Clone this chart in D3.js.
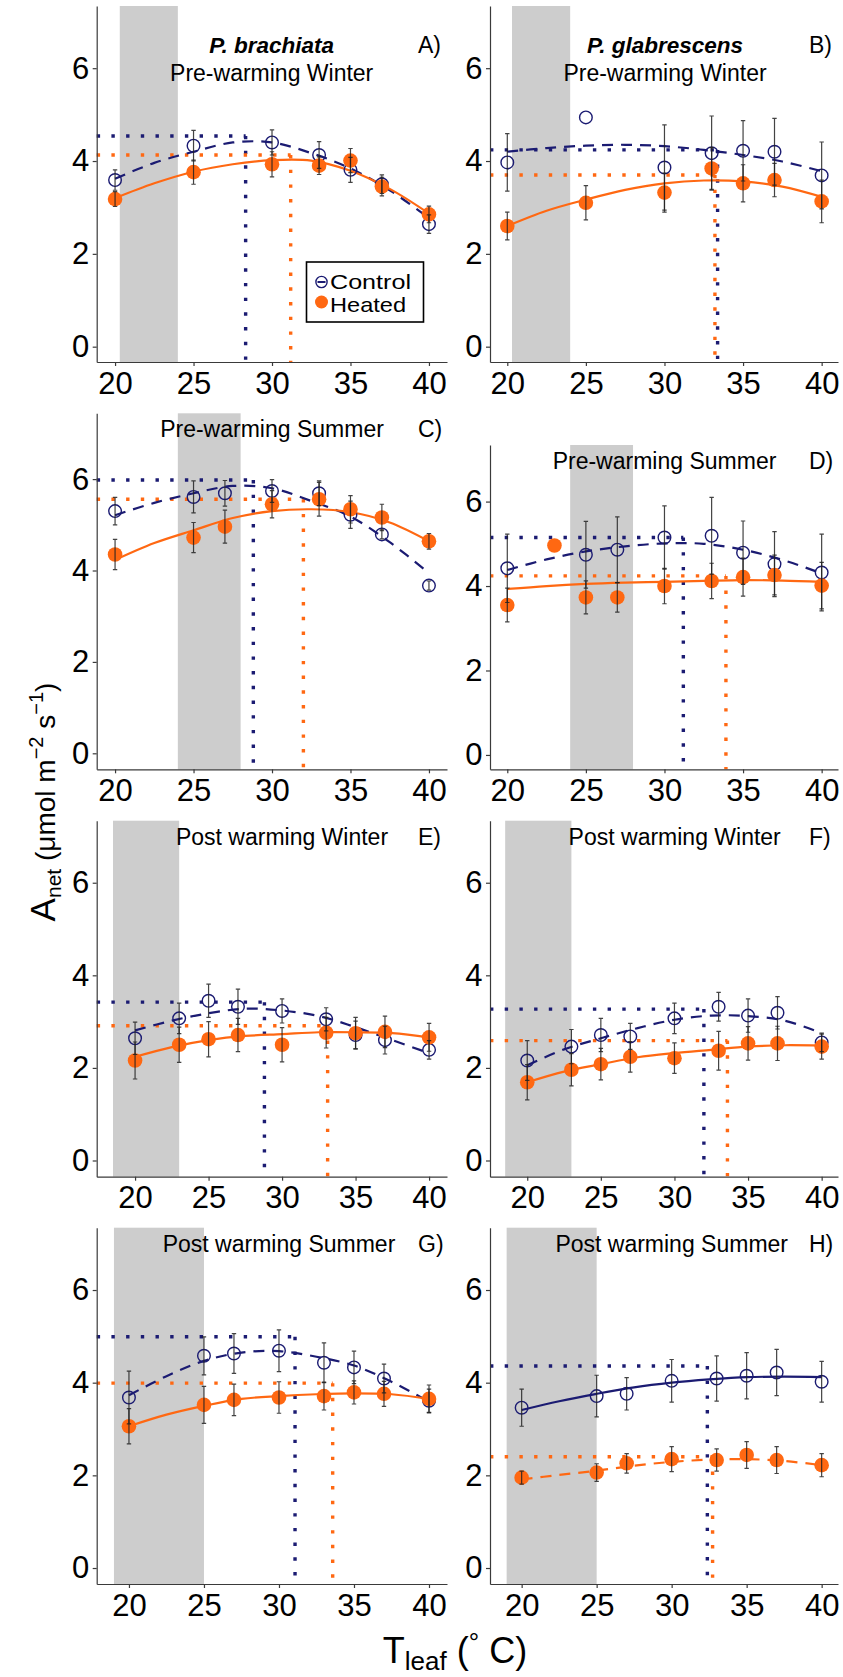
<!DOCTYPE html>
<html>
<head>
<meta charset="utf-8">
<script src="https://cdn.jsdelivr.net/npm/d3@7"></script>
<style>
  body { margin: 0; background: #fff; }
  svg text { font-family: "Liberation Sans", Arial, sans-serif; fill: #000; }
</style>
</head>
<body>
<div class="chartContainer"></div>
<script>
// ---- data ----
var panelIds = ['A', 'B', 'C', 'D', 'E', 'F', 'G', 'H'];
var seasonTitles = ['Pre-warming Winter', 'Pre-warming Winter', 'Pre-warming Summer', 'Pre-warming Summer',
                    'Post warming Winter', 'Post warming Winter', 'Post warming Summer', 'Post warming Summer'];
var speciesTitles = ['P. brachiata', 'P. glabrescens'];
var xTicks = [20, 25, 30, 35, 40];
var yTicks = [0, 2, 4, 6];

// growth temperature band (grey)
var shadeRanges = [[20.3, 24], [20.3, 24], [24, 28], [24, 28], [18.5, 23], [18.5, 23], [19, 25], [19, 25]];

var ctrlTemps = [
  [20, 25, 30, 33, 35, 37, 40],
  [20, 25, 30, 33, 35, 37, 40],
  [20, 25, 27, 30, 33, 35, 37, 40],
  [20, 25, 27, 30, 33, 35, 37, 40],
  [20, 23, 25, 27, 30, 33, 35, 37, 40],
  [20, 23, 25, 27, 30, 33, 35, 37, 40],
  [20, 25, 27, 30, 33, 35, 37, 40],
  [20, 25, 27, 30, 33, 35, 37, 40]
];
var ctrlMean = [
  [3.59, 4.33, 4.40, 4.13, 3.81, 3.50, 2.64],
  [3.97, 4.94, 3.86, 4.17, 4.22, 4.20, 3.69],
  [5.30, 5.61, 5.69, 5.74, 5.69, 5.22, 4.79, 3.67],
  [4.42, 4.74, 4.86, 5.15, 5.19, 4.79, 4.52, 4.32],
  [2.64, 3.07, 3.45, 3.32, 3.23, 3.05, 2.71, 2.60, 2.39],
  [2.16, 2.46, 2.71, 2.68, 3.07, 3.32, 3.13, 3.19, 2.55],
  [3.68, 4.58, 4.63, 4.69, 4.43, 4.33, 4.09, 3.61],
  [3.46, 3.71, 3.76, 4.04, 4.09, 4.15, 4.22, 4.02]
];
var ctrlSe = [
  [0.22, 0.33, 0.27, 0.29, 0.27, 0.20, 0.20],
  [0.62, 0, 0.92, 0.80, 0.65, 0.72, 0.72],
  [0.30, 0.35, 0.28, 0.25, 0.27, 0.30, 0.10, 0.10],
  [0.81, 0.79, 0.78, 0.75, 0.91, 0.75, 0.77, 0.91],
  [0.35, 0.33, 0.36, 0.38, 0.26, 0.25, 0.30, 0.30, 0.20],
  [0.43, 0.37, 0.36, 0.28, 0.33, 0.31, 0.36, 0.35, 0.20],
  [0.57, 0.41, 0.43, 0.45, 0.43, 0.35, 0.31, 0.25],
  [0.40, 0.45, 0.35, 0.46, 0.49, 0.50, 0.50, 0.44]
];

var heatTemps = [
  [20, 25, 30, 33, 35, 37, 40],
  [20, 25, 30, 33, 35, 37, 40],
  [20, 25, 27, 30, 33, 35, 37, 40],
  [20, 23, 25, 27, 30, 33, 35, 37, 40],
  [20, 23, 25, 27, 30, 33, 35, 37, 40],
  [20, 23, 25, 27, 30, 33, 35, 37, 40],
  [20, 25, 27, 30, 33, 35, 37, 40],
  [20, 25, 27, 30, 33, 35, 37, 40]
];
var heatMean = [
  [3.18, 3.76, 3.93, 3.90, 4.01, 3.45, 2.85],
  [2.60, 3.10, 3.32, 3.84, 3.52, 3.59, 3.13],
  [4.35, 4.72, 4.96, 5.45, 5.56, 5.34, 5.16, 4.64],
  [3.55, 4.96, 3.73, 3.73, 4.00, 4.12, 4.21, 4.26, 4.01],
  [2.16, 2.50, 2.62, 2.71, 2.50, 2.76, 2.75, 2.78, 2.66],
  [1.69, 1.96, 2.08, 2.24, 2.21, 2.37, 2.53, 2.53, 2.46],
  [3.06, 3.52, 3.63, 3.68, 3.71, 3.79, 3.76, 3.65],
  [1.95, 2.06, 2.26, 2.35, 2.33, 2.44, 2.33, 2.22]
];
var heatSe = [
  [0.16, 0.26, 0.27, 0.19, 0.26, 0.20, 0.18],
  [0.30, 0.37, 0.42, 0.45, 0.40, 0.36, 0.46],
  [0.33, 0.33, 0.36, 0.30, 0.37, 0.30, 0.29, 0.17],
  [0.40, 0, 0.39, 0.35, 0.42, 0.42, 0.45, 0.47, 0.55],
  [0.40, 0.38, 0.38, 0.36, 0.37, 0.33, 0.34, 0.34, 0.30],
  [0.38, 0.35, 0.34, 0.33, 0.33, 0.42, 0.36, 0.37, 0.27],
  [0.38, 0.40, 0.34, 0.34, 0.30, 0.25, 0.27, 0.30],
  [0.14, 0.19, 0.21, 0.27, 0.24, 0.29, 0.29, 0.25]
];

// fitted response curves, read at these leaf temperatures
var curveTemps = [20, 22.5, 25, 27.5, 30, 32.5, 35, 37.5, 40];
var ctrlCurve = [
  [3.62, 3.96, 4.20, 4.40, 4.40, 4.17, 3.84, 3.37, 2.77],
  [4.20, 4.28, 4.33, 4.35, 4.32, 4.24, 4.13, 3.99, 3.78],
  [5.21, 5.48, 5.69, 5.85, 5.80, 5.52, 5.18, 4.62, 3.94],
  [4.38, 4.63, 4.82, 4.94, 5.01, 5.00, 4.86, 4.62, 4.30],
  [2.81, 3.02, 3.18, 3.28, 3.24, 3.12, 2.88, 2.60, 2.32],
  [2.06, 2.40, 2.64, 2.86, 3.04, 3.13, 3.12, 3.02, 2.75],
  [3.73, 4.14, 4.47, 4.65, 4.68, 4.56, 4.37, 4.02, 3.59],
  [3.41, 3.60, 3.76, 3.90, 4.00, 4.07, 4.12, 4.13, 4.12]
];
var heatCurve = [
  [3.20, 3.52, 3.77, 3.93, 4.02, 4.01, 3.79, 3.40, 2.87],
  [2.60, 2.93, 3.17, 3.38, 3.52, 3.58, 3.56, 3.45, 3.23],
  [4.23, 4.60, 4.88, 5.15, 5.30, 5.34, 5.28, 5.05, 4.64],
  [3.93, 4.00, 4.05, 4.08, 4.10, 4.12, 4.14, 4.13, 4.10],
  [2.24, 2.45, 2.60, 2.69, 2.73, 2.77, 2.77, 2.75, 2.66],
  [1.69, 1.92, 2.08, 2.23, 2.32, 2.39, 2.46, 2.49, 2.48],
  [3.06, 3.31, 3.50, 3.65, 3.71, 3.75, 3.77, 3.75, 3.65],
  [1.91, 2.01, 2.10, 2.21, 2.29, 2.34, 2.35, 2.31, 2.22]
];
var ctrlDashed = [true, true, true, true, true, true, true, false];
var heatDashed = [false, false, false, false, false, false, false, true];

// [Topt, Aopt]
var ctrlOpt = [[28.32, 4.54], [33.38, 4.24], [28.81, 5.98], [31.2, 5.15], [28.8, 3.42], [32.0, 3.27], [31.07, 4.99], [32.38, 4.36]];
var heatOpt = [[31.19, 4.13], [33.21, 3.70], [32.0, 5.56], [33.91, 4.24], [33.1, 2.91], [33.6, 2.59], [33.58, 3.99], [32.73, 2.40]];

// ---- layout ----
const width = 843;
const height = 1677;
const ctrlColour = '#1b1b72';
const heatColour = '#ff6812';
const font = 'Liberation Sans, Arial, sans-serif';

const boxes = [
  {l: 96.7, r: 447, t: 6, b: 362},
  {l: 490, r: 838, t: 6, b: 362},
  {l: 96.7, r: 447, t: 413.3, b: 769.3},
  {l: 490, r: 838, t: 445, b: 769.3},
  {l: 96.7, r: 447, t: 820.7, b: 1176.7},
  {l: 490, r: 838, t: 820.7, b: 1176.7},
  {l: 96.7, r: 447, t: 1227.7, b: 1584},
  {l: 490, r: 838, t: 1227.7, b: 1584}
];
const xDomains = [[18.83, 41.15], [18.9, 41.04], [18.83, 41.15], [18.9, 41.04],
                  [17.39, 41.22], [17.47, 41.11], [17.85, 41.2], [17.89, 41.09]];
const yDomains = [[-0.33, 7.34], [-0.33, 7.34], [-0.35, 7.44], [-0.34, 7.34],
                  [-0.35, 7.34], [-0.35, 7.34], [-0.345, 7.345], [-0.345, 7.345]];
const titleCentres = [271.7, 665, 272, 664.5, 282, 674.7, 279, 671.7];

const svg = d3.select('.chartContainer')
              .append('svg')
                .attr('width', width)
                .attr('height', height);

function drawPanel(i) {
    const box = boxes[i];
    const xScale = d3.scaleLinear().domain(xDomains[i]).range([box.l, box.r]);
    const yScale = d3.scaleLinear().domain(yDomains[i]).range([box.b, box.t]);
    const g = svg.append('g');

    // grey band
    g.append('rect')
        .attr('x', xScale(shadeRanges[i][0]))
        .attr('y', box.t)
        .attr('width', xScale(shadeRanges[i][1]) - xScale(shadeRanges[i][0]))
        .attr('height', box.b - box.t)
        .attr('fill', '#cdcdcd');

    // dotted optimum guides
    [[ctrlOpt[i], ctrlColour], [heatOpt[i], heatColour]].forEach(function (o) {
        const opt = o[0];
        g.append('path')
            .attr('d', `M${box.l},${yScale(opt[1])}H${xScale(opt[0])}`)
            .attr('stroke', o[1]).attr('stroke-width', 3.4)
            .attr('stroke-dasharray', '3.4 11.3').attr('fill', 'none');
        g.append('path')
            .attr('d', `M${xScale(opt[0])},${yScale(opt[1])}V${box.b}`)
            .attr('stroke', o[1]).attr('stroke-width', 3.4)
            .attr('stroke-dasharray', '3.4 11.3').attr('fill', 'none');
    });

    // fitted curves
    const line = d3.line()
                   .x((d) => xScale(d[0]))
                   .y((d) => yScale(d[1]))
                   .curve(d3.curveCatmullRom.alpha(0.5));
    g.append('path')
        .attr('d', line(curveTemps.map((t, k) => [t, ctrlCurve[i][k]])))
        .attr('stroke', ctrlColour).attr('stroke-width', 2.2).attr('fill', 'none')
        .attr('stroke-dasharray', ctrlDashed[i] ? '11 8' : null);
    g.append('path')
        .attr('d', line(curveTemps.map((t, k) => [t, heatCurve[i][k]])))
        .attr('stroke', heatColour).attr('stroke-width', 2.2).attr('fill', 'none')
        .attr('stroke-dasharray', heatDashed[i] ? '11 8' : null);

    const ctrl = ctrlTemps[i].map((t, k) => ({t: t, m: ctrlMean[i][k], se: ctrlSe[i][k]}));
    const heat = heatTemps[i].map((t, k) => ({t: t, m: heatMean[i][k], se: heatSe[i][k]}));

    // points
    g.selectAll('circle.ctrl').data(ctrl).enter()
        .append('circle')
          .attr('class', 'ctrl')
          .attr('cx', (d) => xScale(d.t))
          .attr('cy', (d) => yScale(d.m))
          .attr('r', 6.3)
          .attr('fill', 'none')
          .attr('stroke', ctrlColour)
          .attr('stroke-width', 1.4);
    g.selectAll('circle.heat').data(heat).enter()
        .append('circle')
          .attr('class', 'heat')
          .attr('cx', (d) => xScale(d.t))
          .attr('cy', (d) => yScale(d.m))
          .attr('r', 7.3)
          .attr('fill', heatColour);

    // error bars on top
    const bars = ctrl.concat(heat).filter((d) => d.se > 0);
    g.selectAll('path.err').data(bars).enter()
        .append('path')
          .attr('class', 'err')
          .attr('d', function (d) {
              const x = xScale(d.t), y0 = yScale(d.m - d.se), y1 = yScale(d.m + d.se);
              return `M${x - 2.2},${y1}H${x + 2.2}M${x},${y1}V${y0}M${x - 2.2},${y0}H${x + 2.2}`;
          })
          .attr('stroke', '#222').attr('stroke-opacity', 0.85)
          .attr('stroke-width', 1.2).attr('fill', 'none');

    // axes
    const yAxis = g.append('g')
                   .attr('transform', `translate(${box.l},0)`)
                   .call(d3.axisLeft(yScale).tickValues(yTicks).tickSize(4).tickSizeOuter(0).tickPadding(3.4));
    const xAxis = g.append('g')
                   .attr('transform', `translate(0,${box.b})`)
                   .call(d3.axisBottom(xScale).tickValues(xTicks).tickSize(4).tickSizeOuter(0).tickPadding(5.7));
    [xAxis, yAxis].forEach(function (a) {
        a.attr('font-size', 31).attr('font-family', font);
        a.select('.domain').attr('stroke', '#3a3a3a').attr('stroke-width', 1.2);
        a.selectAll('.tick line').attr('stroke', '#3a3a3a').attr('stroke-width', 1.2);
        a.selectAll('.tick text').attr('fill', '#111');
    });

    // titles
    const seasonBase = i < 2 ? box.t + 75 : box.t + 24;
    if (i < 2) {
        g.append('text')
            .attr('x', titleCentres[i]).attr('y', box.t + 47)
            .attr('text-anchor', 'middle')
            .attr('font-size', 22.5).attr('font-weight', 'bold').attr('font-style', 'italic')
            .text(speciesTitles[i]);
    }
    g.append('text')
        .attr('x', titleCentres[i]).attr('y', seasonBase)
        .attr('text-anchor', 'middle')
        .attr('font-size', 23).attr('fill', '#111')
        .text(seasonTitles[i]);
    g.append('text')
        .attr('x', box.r - 29).attr('y', i < 2 ? box.t + 47 : seasonBase)
        .attr('font-size', 23).attr('fill', '#111')
        .text(panelIds[i] + ')');
}

panelIds.forEach((id, i) => drawPanel(i));

// legend (panel A)
const legend = svg.append('g');
legend.append('rect')
    .attr('x', 306.5).attr('y', 262).attr('width', 117).attr('height', 60)
    .attr('fill', '#fff').attr('stroke', '#000').attr('stroke-width', 1.6);
legend.append('circle')
    .attr('cx', 321.5).attr('cy', 282).attr('r', 5.6)
    .attr('fill', 'none').attr('stroke', ctrlColour).attr('stroke-width', 1.4);
legend.append('path')
    .attr('d', 'M317.5,282H325.5').attr('stroke', ctrlColour).attr('stroke-width', 2);
legend.append('circle')
    .attr('cx', 321.5).attr('cy', 302).attr('r', 6.5).attr('fill', heatColour);
legend.append('text').attr('x', 330).attr('y', 289).attr('font-size', 21)
    .attr('textLength', 81).attr('lengthAdjust', 'spacingAndGlyphs').attr('fill', '#111').text('Control');
legend.append('text').attr('x', 330).attr('y', 312).attr('font-size', 21)
    .attr('textLength', 76).attr('lengthAdjust', 'spacingAndGlyphs').attr('fill', '#111').text('Heated');

// axis titles
const yLabel = svg.append('text')
                  .attr('transform', 'translate(55,802) rotate(-90)')
                  .attr('text-anchor', 'middle')
                  .attr('font-size', 28).attr('fill', '#111');
yLabel.append('tspan').attr('font-size', 35).text('A');
yLabel.append('tspan').attr('font-size', 21).attr('dy', 6).text('net');
yLabel.append('tspan').attr('dy', -6).text(' (μmol m');
yLabel.append('tspan').attr('font-size', 20).attr('dy', -12).text('−2');
yLabel.append('tspan').attr('dy', 12).text(' s');
yLabel.append('tspan').attr('font-size', 20).attr('dy', -12).text('−1');
yLabel.append('tspan').attr('dy', 12).text(')');

const xLabel = svg.append('text')
                  .attr('x', 455).attr('y', 1663)
                  .attr('text-anchor', 'middle')
                  .attr('font-size', 36).attr('fill', '#111');
xLabel.append('tspan').text('T');
xLabel.append('tspan').attr('font-size', 26).attr('dy', 7).text('leaf');
xLabel.append('tspan').attr('dy', -7).text(' (');
xLabel.append('tspan').attr('font-size', 26).attr('dy', -12).text('°');
xLabel.append('tspan').attr('dy', 12).text(' C)');
</script>
</body>
</html>
